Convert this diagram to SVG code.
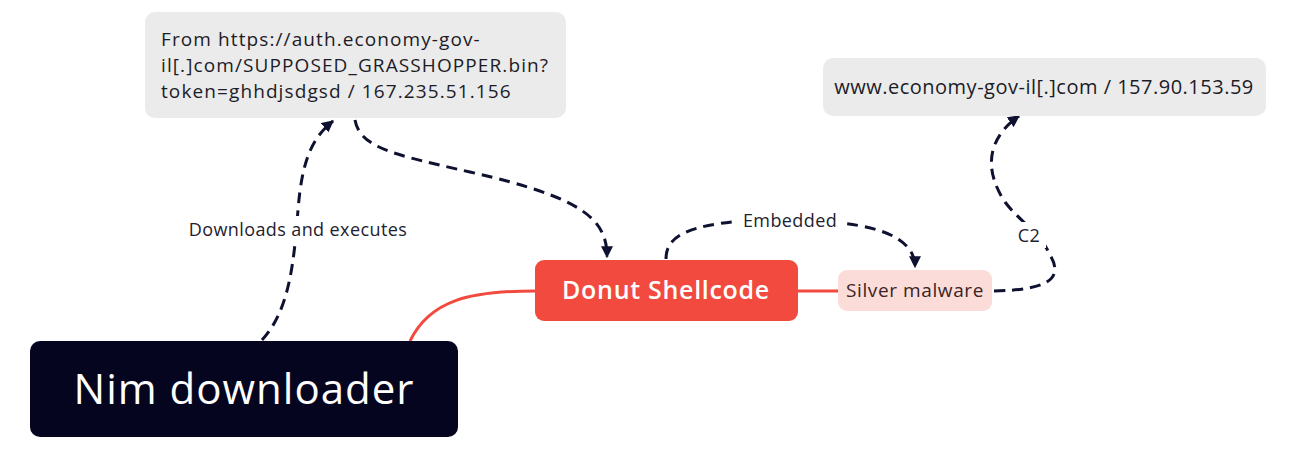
<svg xmlns="http://www.w3.org/2000/svg" width="1291" height="460" viewBox="0 0 1291 460">
<style>
text{font-family:"Open Sans","Liberation Sans",sans-serif}
.grey{fill:#ebebeb}
.gt{fill:#1c1c28;font-size:19px;letter-spacing:1.1px}
.gt2{fill:#1c1c28;font-size:20px;letter-spacing:0.5px}
.dash{fill:none;stroke:#0f1130;stroke-width:3;stroke-dasharray:11 7}
.red{fill:none;stroke:#f24a3e;stroke-width:3}
.lbl{fill:#22222e;font-size:18px;letter-spacing:0.4px;text-anchor:middle}
</style>
<defs>
<marker id="ah" viewBox="0 0 10 10" refX="9" refY="5" markerWidth="4" markerHeight="4" orient="auto" markerUnits="strokeWidth">
<path d="M0,0 L10,5 L0,10 z" fill="#0f1130"/>
</marker>
</defs>
<rect width="1291" height="460" fill="#ffffff"/>
<g id="connectors">
<path class="red" d="M410,341 C430,300 470,291 535,291"/>
<path class="red" d="M798,291 L838,291"/>
<path class="dash" d="M262,340 C290,310 294,260 298,210 C302,160 312,138 333,121" marker-end="url(#ah)"/>
<rect x="186" y="216" width="224" height="26" fill="#ffffff"/>
<text class="lbl" x="298" y="236">Downloads and executes</text>
<path class="dash" d="M355,120 C360,148 395,155 470,172 C585,198 607,220 607,257" marker-end="url(#ah)"/>
<path class="dash" d="M666,259 C666,235 690,226 740,221 L840,223 C890,228 915,243 915,267" marker-end="url(#ah)"/>
<rect x="738" y="208" width="104" height="26" fill="#ffffff"/>
<text class="lbl" x="790" y="227">Embedded</text>
<path class="dash" d="M994,291 C1045,290 1065,280 1050,255 C1040,232 1020,222 1005,202 C985,172 985,140 1019,116" marker-end="url(#ah)"/>
<rect x="1012" y="222" width="34" height="26" fill="#ffffff"/>
<text class="lbl" x="1029" y="242">C2</text>
</g>
<g id="node-url">
<rect class="grey" x="145" y="12" width="421" height="106" rx="10"/>
<text class="gt" x="161" y="46">From https://auth.economy-gov-</text>
<text class="gt" x="161" y="72">il[.]com/SUPPOSED_GRASSHOPPER.bin?</text>
<text class="gt" x="161" y="98">token=ghhdjsdgsd / 167.235.51.156</text>
</g>
<g id="node-c2">
<rect class="grey" x="823" y="58" width="443" height="58" rx="10"/>
<text class="gt2" x="1044" y="94" text-anchor="middle">www.economy-gov-il[.]com / 157.90.153.59</text>
</g>
<g id="node-donut">
<rect x="535" y="260" width="263" height="61" rx="9" fill="#f24a3e"/>
<text x="666" y="299" text-anchor="middle" fill="#ffffff" font-size="25" font-weight="600" letter-spacing="0.7">Donut Shellcode</text>
</g>
<g id="node-silver">
<rect x="838" y="270" width="154" height="41" rx="9" fill="#fcdcd8"/>
<text x="915" y="297" text-anchor="middle" fill="#3a2424" font-size="19" letter-spacing="0.6">Silver malware</text>
</g>
<g id="node-nim">
<rect x="30" y="341" width="428" height="96" rx="10" fill="#05051f"/>
<text x="244" y="404" text-anchor="middle" fill="#ffffff" font-size="42" letter-spacing="1">Nim downloader</text>
</g>
</svg>
